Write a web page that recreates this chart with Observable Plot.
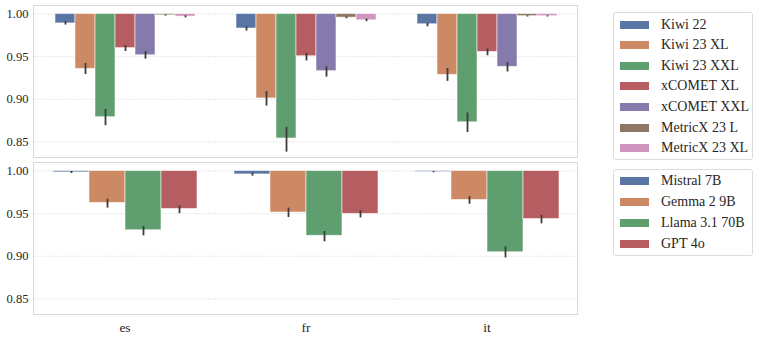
<!DOCTYPE html>
<html>
<head>
<meta charset="utf-8">
<script src="https://cdn.jsdelivr.net/npm/d3@7"></script>
<script src="https://cdn.jsdelivr.net/npm/@observablehq/plot@0.6"></script>
<style>
  html, body { margin: 0; padding: 0; background: #fff; }
  #wrap { position: relative; width: 764px; height: 339px; font-family: "Liberation Serif", serif; color: #262626; }
  .panel { position: absolute; left: 0; }
  .frame { position: absolute; border: 1.3px solid #d9d9d9; box-sizing: border-box; pointer-events: none; }
  .legend { position: absolute; left: 613px; width: 140px; border: 1px solid #dcdcdc; border-radius: 3px; box-sizing: border-box; background: #fff; }
  .sw { position: absolute; left: 6px; width: 29px; height: 8px; }
  .lab { position: absolute; left: 47px; font-size: 14px; line-height: 14px; white-space: nowrap; color: #262626; }
  svg g[aria-label="fx-axis tick label"] text { font-size: 13.5px; }
</style>
</head>
<body>
<div id="wrap"></div>
<script>
// ---- data ----
const languages = ["es", "fr", "it"];
const yTicks = [0.85, 0.90, 0.95, 1.00];

const qeModels = ["Kiwi 22", "Kiwi 23 XL", "Kiwi 23 XXL", "xCOMET XL", "xCOMET XXL", "MetricX 23 L", "MetricX 23 XL"];
const qeColors = ["#5975a4", "#cc8963", "#5f9e6e", "#b55d60", "#857aab", "#8d7866", "#d095bf"];
// values per model across [es, fr, it]
const qeMean = [
  [0.989, 0.983, 0.988],
  [0.9356, 0.901, 0.9286],
  [0.879, 0.854, 0.873],
  [0.960, 0.9505, 0.9555],
  [0.9516, 0.933, 0.938],
  [0.9985, 0.9957, 0.9975],
  [0.997, 0.9926, 0.9975]
];
const qeLo = [
  [0.987, 0.980, 0.985],
  [0.929, 0.892, 0.921],
  [0.869, 0.838, 0.861],
  [0.956, 0.945, 0.951],
  [0.947, 0.926, 0.932],
  [0.9975, 0.9945, 0.9965],
  [0.9955, 0.991, 0.9965]
];
const qeHi = [
  [0.991, 0.985, 0.989],
  [0.942, 0.909, 0.936],
  [0.888, 0.867, 0.884],
  [0.963, 0.954, 0.959],
  [0.956, 0.938, 0.943],
  [0.999, 0.9965, 0.998],
  [0.998, 0.994, 0.998]
];

const llmModels = ["Mistral 7B", "Gemma 2 9B", "Llama 3.1 70B", "GPT 4o"];
const llmColors = ["#5975a4", "#cc8963", "#5f9e6e", "#b55d60"];
const llmMean = [
  [0.9984, 0.996, 0.9988],
  [0.9625, 0.9513, 0.966],
  [0.9305, 0.924, 0.9047],
  [0.9555, 0.9497, 0.9437]
];
const llmLo = [
  [0.997, 0.994, 0.998],
  [0.9565, 0.9455, 0.961],
  [0.924, 0.917, 0.898],
  [0.950, 0.945, 0.938]
];
const llmHi = [
  [0.9995, 0.9975, 0.9995],
  [0.967, 0.9565, 0.970],
  [0.935, 0.929, 0.911],
  [0.959, 0.9535, 0.948]
];

// ---- drawing ----
const wrap = document.getElementById("wrap");
const W = 585, ML = 33, MR = 7;

function panel(models, colors, mean, lo, hi, o) {
  const rows = [];
  models.forEach((m, i) => languages.forEach((l, j) => rows.push({lang: l, model: m, mean: mean[i][j], lo: lo[i][j], hi: hi[i][j]})));
  const bw = 0.8 / models.length;
  const pad = 0.1 / bw;
  const plot = Plot.plot({
    width: W, height: o.height,
    marginLeft: ML, marginRight: MR, marginTop: o.mt, marginBottom: o.mb,
    style: {fontFamily: "Liberation Serif, serif", fontSize: "12.6px", color: "#262626", background: "transparent"},
    fx: {domain: languages, padding: 0, axis: o.showX ? "bottom" : null, tickSize: 0, tickPadding: 7, label: null},
    x: {domain: models, axis: null, paddingInner: 0, paddingOuter: pad},
    y: {domain: [0.8305, 1.0100], ticks: yTicks, tickFormat: d3.format(".2f"), tickSize: 0, tickPadding: 6, label: null},
    color: {domain: models, range: colors},
    marks: [
      Plot.ruleY(yTicks, {stroke: "#d6d6d6", strokeWidth: 0.9, strokeDasharray: "1.2,1.6"}),
      Plot.barY(rows, {fx: "lang", x: "model", y1: "mean", y2: 1, fill: "model", stroke: "#ffffff", strokeWidth: 1, strokeOpacity: 0.55}),
      Plot.ruleX(rows, {fx: "lang", x: "model", y1: "lo", y2: "hi", stroke: "#3c3c3c", strokeWidth: 1.8})
    ]
  });
  const d = document.createElement("div");
  d.className = "panel";
  d.style.top = o.top + "px";
  d.appendChild(plot);
  wrap.appendChild(d);
  const f = document.createElement("div");
  f.className = "frame";
  f.style.left = ML + "px";
  f.style.top = (o.top + o.mt) + "px";
  f.style.width = (W - ML - MR) + "px";
  f.style.height = (o.height - o.mt - o.mb) + "px";
  wrap.appendChild(f);
}

function legend(models, colors, top, height, step, first) {
  const box = document.createElement("div");
  box.className = "legend";
  box.style.top = top + "px";
  box.style.height = height + "px";
  models.forEach((m, i) => {
    const cy = first + i * step;
    const sw = document.createElement("div");
    sw.className = "sw";
    sw.style.top = (cy - 4) + "px";
    sw.style.background = colors[i];
    box.appendChild(sw);
    const t = document.createElement("div");
    t.className = "lab";
    t.style.top = (cy - 7) + "px";
    t.textContent = m;
    box.appendChild(t);
  });
  wrap.appendChild(box);
}

panel(qeModels, qeColors, qeMean, qeLo, qeHi, {top: 0, height: 160, mt: 5, mb: 2, showX: false});
panel(llmModels, llmColors, llmMean, llmLo, llmHi, {top: 160, height: 179, mt: 2, mb: 24, showX: true});
legend(qeModels, qeColors, 12, 148, 20.6, 11.5);
legend(llmModels, llmColors, 169, 87, 21, 10.5);
</script>
</body>
</html>
